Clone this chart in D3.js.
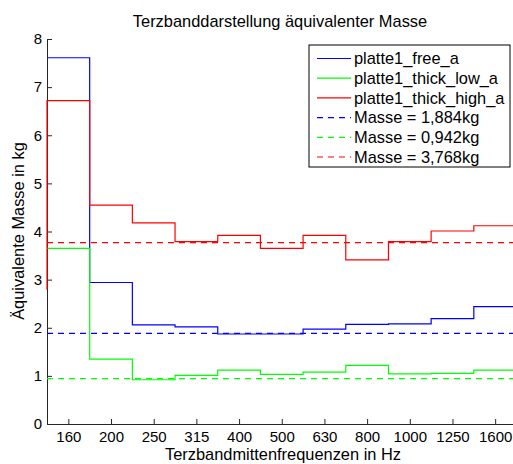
<!DOCTYPE html>
<html>
<head>
<meta charset="utf-8">
<script src="https://cdn.jsdelivr.net/npm/d3@7"></script>
<style>
  body { margin: 0; background: #fff; }
  svg { font-family: "Liberation Sans", Arial, sans-serif; }
  .axis path, .axis line { stroke: #262626; }
  .axis text { font-size: 15px; fill: #000; }
</style>
</head>
<body>
<svg width="513" height="464"></svg>
<script>
// Terzband categories (Hz)
const bands = ["160", "200", "250", "315", "400", "500", "630", "800", "1000", "1250", "1600"];

// equivalent mass per band (kg)
const freeA = [7.61, 2.94, 2.06, 2.02, 1.87, 1.87, 1.97, 2.07, 2.08, 2.19, 2.44];
const thickLowA = [3.65, 1.35, 0.92, 1.01, 1.12, 1.03, 1.08, 1.22, 1.04, 1.05, 1.12];
const thickHighA = [6.72, 4.55, 4.18, 3.79, 3.92, 3.65, 3.92, 3.41, 3.79, 4.01, 4.12];
// value the red stairs come from at the left edge
const thickHighLead = 2.79;

// reference masses (kg)
const masses = [1.884, 0.942, 3.768];
const massLabels = ["1,884", "0,942", "3,768"];

const yTicks = [0, 1, 2, 3, 4, 5, 6, 7, 8];

const plotLeft = 47, plotRight = 516.5, plotTop = 39, plotBottom = 424;

const svg = d3.select("svg");

const x = d3.scaleLinear()
  .domain([0.5, bands.length + 0.5])
  .range([plotLeft, plotRight]);

const y = d3.scaleLinear()
  .domain([0, 8])
  .range([plotBottom, plotTop]);

// axes
svg.append("g")
  .attr("class", "axis")
  .attr("transform", `translate(0, ${plotBottom})`)
  .call(d3.axisBottom(x)
    .tickValues(d3.range(1, bands.length + 1))
    .tickFormat(i => bands[i - 1])
    .tickSizeInner(-5)
    .tickSizeOuter(0)
    .tickPadding(7));

svg.append("g")
  .attr("class", "axis")
  .attr("transform", `translate(${plotLeft}, 0)`)
  .call(d3.axisLeft(y)
    .tickValues(yTicks)
    .tickSizeInner(-5)
    .tickSizeOuter(0)
    .tickPadding(5));

// stairs
const stairs = d3.line()
  .x(d => x(d[0]))
  .y(d => y(d[1]))
  .curve(d3.curveStepAfter);

function stairPoints(vals, lead) {
  const pts = vals.map((v, i) => [i + 0.5, v]);
  pts.push([vals.length + 0.5, vals[vals.length - 1]]);
  if (lead !== undefined) pts.unshift([0.5, lead]);
  return pts;
}

const series = [
  { name: "platte1_free_a", vals: freeA, color: "#0000ff" },
  { name: "platte1_thick_low_a", vals: thickLowA, color: "#00ff00" },
  { name: "platte1_thick_high_a", vals: thickHighA, color: "#ff0000", lead: thickHighLead }
];

series.forEach(s => {
  svg.append("path")
    .attr("d", stairs(stairPoints(s.vals, s.lead)))
    .attr("fill", "none")
    .attr("stroke", s.color)
    .attr("stroke-width", 1.2);
});

// reference lines
masses.forEach((m, i) => {
  svg.append("line")
    .attr("x1", x(0.5))
    .attr("x2", x(bands.length + 0.5))
    .attr("y1", y(m))
    .attr("y2", y(m))
    .attr("stroke", series[i].color)
    .attr("stroke-width", 1.2)
    .attr("stroke-dasharray", "6,5");
});

// labels
svg.append("text")
  .attr("x", 280)
  .attr("y", 26.5)
  .attr("text-anchor", "middle")
  .attr("font-size", 16.4)
  .text("Terzbanddarstellung äquivalenter Masse");

svg.append("text")
  .attr("x", 283)
  .attr("y", 459.5)
  .attr("text-anchor", "middle")
  .attr("font-size", 16.4)
  .text("Terzbandmittenfrequenzen in Hz");

svg.append("text")
  .attr("transform", `translate(24, 231) rotate(-90)`)
  .attr("text-anchor", "middle")
  .attr("font-size", 16.4)
  .text("Äquivalente Masse in kg");

// legend
const legend = svg.append("g").attr("transform", "translate(309, 45)");
legend.append("rect")
  .attr("width", 201)
  .attr("height", 122)
  .attr("fill", "#fff")
  .attr("stroke", "#000");

const legendItems = series.map(s => ({ label: s.name, color: s.color, dash: null }))
  .concat(masses.map((m, i) => ({ label: `Masse = ${massLabels[i]}kg`, color: series[i].color, dash: "6,5" })));

legendItems.forEach((d, i) => {
  const yy = 13.5 + i * 19.7;
  legend.append("line")
    .attr("x1", 8)
    .attr("x2", 42)
    .attr("y1", yy)
    .attr("y2", yy)
    .attr("stroke", d.color)
    .attr("stroke-width", 1.2)
    .attr("stroke-dasharray", d.dash);
  legend.append("text")
    .attr("x", 45)
    .attr("y", yy)
    .attr("dy", "0.35em")
    .attr("font-size", 16.4)
    .text(d.label);
});
</script>
</body>
</html>
